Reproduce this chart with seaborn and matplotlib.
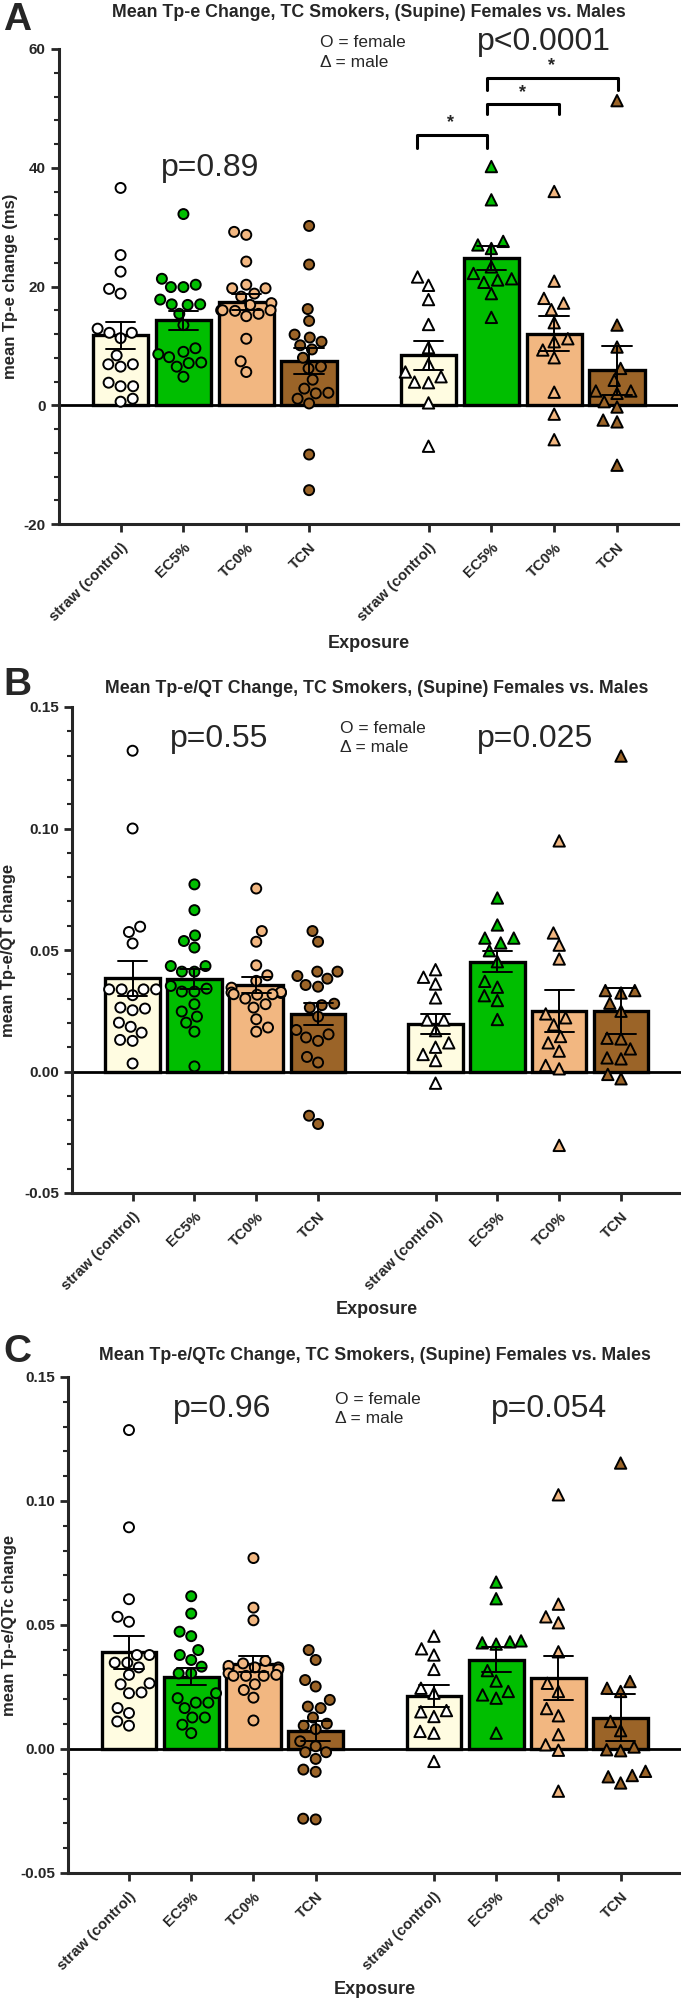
import warnings
import numpy as np
import pandas as pd
import matplotlib
matplotlib.use("Agg")
import matplotlib.pyplot as plt
from matplotlib.ticker import MultipleLocator, FormatStrFormatter
import seaborn as sns

warnings.filterwarnings("ignore")

# categories and layout of the x axis (females left, males right)
exposures = ["straw (control)", "EC5%", "TC0%", "TCN"]
tick_labels = exposures + exposures
pos_female = [0, 1, 2, 3]
pos_male = [4.9, 5.9, 6.9, 7.9]

bar_colors = ["#FFFCE1", "#00BE00", "#F2B781", "#9B6428"]
dot_colors = ["#FFFFFF", "#00BE00", "#F2B781", "#9B6428"]

# Panel A: mean Tp-e change (ms)
tpe_female = [
    [36.6, 25.3, 22.5, 19.6, 18.8, 12.9, 12.2, 12.2, 11.3, 8.4, 6.9, 6.9, 6.5, 3.8, 3.2, 3.2, 1.1, 0.6],
    [32.2, 21.3, 20.3, 19.9, 19.9, 17.8, 17.0, 17.0, 16.9, 15.4, 13.5, 9.6, 8.6, 9.0, 8.1, 7.1, 7.2, 6.5, 4.8],
    [29.2, 28.7, 24.2, 20.3, 19.7, 19.7, 18.8, 18.3, 17.2, 16.9, 16.0, 15.0, 16.0, 15.9, 16.0, 15.4, 11.2, 7.4, 5.6],
    [30.2, 23.7, 16.2, 14.2, 11.9, 11.4, 10.7, 10.1, 9.4, 8.0, 6.5, 6.2, 4.3, 2.8, 2.0, 2.1, 1.1, 0.3, -8.3, -14.3],
]
tpe_male = [
    [21.6, 20.2, 17.8, 13.6, 9.7, 6.9, 5.6, 4.8, 3.8, 3.9, 0.4, -6.9],
    [40.2, 34.6, 27.6, 27.0, 26.4, 23.3, 22.2, 21.3, 21.1, 20.7, 18.8, 14.8],
    [36.0, 20.9, 17.2, 18.0, 16.1, 13.9, 11.2, 10.7, 9.3, 8.0, 2.2, -1.5, -5.8],
    [51.3, 13.5, 9.8, 6.2, 4.2, 2.4, 2.0, 2.4, 0.6, -0.3, -2.5, -2.8, -10.1],
]

# Panel B: mean Tp-e/QT change
tpeqt_female = [
    [0.132, 0.100, 0.0596, 0.0574, 0.0527, 0.0338, 0.0338, 0.0338, 0.0338, 0.0314, 0.0263, 0.0259,
     0.0252, 0.0201, 0.0184, 0.0160, 0.0130, 0.0126, 0.0033],
    [0.0770, 0.0664, 0.0560, 0.0537, 0.0510, 0.0434, 0.0434, 0.0411, 0.0411, 0.0352, 0.0341, 0.0329,
     0.0329, 0.0277, 0.0247, 0.0226, 0.0201, 0.0164, 0.0021],
    [0.0753, 0.0578, 0.0534, 0.0437, 0.0396, 0.0373, 0.0345, 0.0316, 0.0323, 0.0325, 0.0327, 0.0318,
     0.0318, 0.0300, 0.0277, 0.0263, 0.0215, 0.0181, 0.0164],
    [0.0578, 0.0534, 0.0411, 0.0411, 0.0393, 0.0382, 0.0356, 0.0349, 0.0279, 0.0273, 0.0263, 0.0226,
     0.0171, 0.0153, 0.0140, 0.0126, 0.0060, 0.0037, -0.0182, -0.0216],
]
tpeqt_male = [
    [0.0419, 0.0388, 0.0360, 0.0303, 0.0212, 0.0212, 0.0168, 0.0118, 0.0100, 0.0070, 0.0045, -0.0048],
    [0.0714, 0.0603, 0.0549, 0.0549, 0.0529, 0.0497, 0.0452, 0.0371, 0.0347, 0.0312, 0.0292, 0.0214],
    [0.0949, 0.0570, 0.0520, 0.0463, 0.0237, 0.0221, 0.0192, 0.0144, 0.0118, 0.0084, 0.0025, 0.0011, -0.0304],
    [0.1298, 0.0333, 0.0323, 0.0333, 0.0281, 0.0248, 0.0137, 0.0134, 0.0093, 0.0052, 0.0056, -0.0030, -0.0012],
]

# Panel C: mean Tp-e/QTc change
tpeqtc_female = [
    [0.1286, 0.0894, 0.0604, 0.0533, 0.0513, 0.0379, 0.0379, 0.0348, 0.0348, 0.0329, 0.0299, 0.0261,
     0.0265, 0.0225, 0.0228, 0.0165, 0.0145, 0.0111, 0.0094],
    [0.0616, 0.0546, 0.0473, 0.0455, 0.0399, 0.0379, 0.0359, 0.0332, 0.0305, 0.0305, 0.0225, 0.0205,
     0.0187, 0.0187, 0.0165, 0.0127, 0.0127, 0.0098, 0.0064],
    [0.0770, 0.0570, 0.0519, 0.0355, 0.0345, 0.0325, 0.0329, 0.0335, 0.0329, 0.0321, 0.0305, 0.0295,
     0.0295, 0.0299, 0.0295, 0.0261, 0.0238, 0.0207, 0.0115],
    [0.0399, 0.0359, 0.0278, 0.0252, 0.0198, 0.0171, 0.0165, 0.0127, 0.0102, 0.0094, 0.0080, 0.0031,
     0.0011, -0.0013, -0.0013, -0.0040, -0.0083, -0.0092, -0.0281, -0.0284],
]
tpeqtc_male = [
    [0.0455, 0.0404, 0.0379, 0.0321, 0.0245, 0.0225, 0.0150, 0.0155, 0.0131, 0.0071, 0.0064, -0.0050],
    [0.0673, 0.0606, 0.0432, 0.0436, 0.0423, 0.0428, 0.0316, 0.0274, 0.0232, 0.0218, 0.0205, 0.0064],
    [0.1025, 0.0584, 0.0509, 0.0533, 0.0392, 0.0265, 0.0232, 0.0163, 0.0134, 0.0058, 0.0017, -0.0005, -0.0170],
    [0.1153, 0.0272, 0.0232, 0.0245, 0.0111, 0.0074, -0.0003, -0.0007, 0.0008, -0.0090, -0.0107, -0.0112, -0.0137],
]

p_values_a = ["p=0.89", "p<0.0001"]
p_values_b = ["p=0.55", "p=0.025"]
p_values_c = ["p=0.96", "p=0.054"]


def long_frame(female, male):
    rows = []
    for sex, groups, pos in (("F", female, pos_female), ("M", male, pos_male)):
        for i, vals in enumerate(groups):
            for v in vals:
                rows.append({"sex": sex, "grp": f"{sex}{i}", "pos": pos[i], "value": v})
    return pd.DataFrame(rows)


bar_pal = {f"{s}{i}": bar_colors[i] for s in "FM" for i in range(4)}
dot_pal = {f"{s}{i}": dot_colors[i] for s in "FM" for i in range(4)}

sns.set_style("ticks")
plt.rcParams["font.family"] = ["Liberation Sans", "DejaVu Sans"]
plt.rcParams["axes.unicode_minus"] = False

W, H = 681, 1998
fig = plt.figure(figsize=(W / 100, H / 100), dpi=100)


def px_axes(left, right, top, bottom):
    return fig.add_axes([left / W, 1 - bottom / H, (right - left) / W, (bottom - top) / H])


def draw_panel(ax, female, male, ylim, major, minor, fmt, ylabel, title, title_pad, ylab_x, xlab_y):
    df = long_frame(female, male)
    sns.barplot(data=df, x="pos", y="value", hue="grp", palette=bar_pal, native_scale=True,
                width=0.88, saturation=1, errorbar="se", capsize=0.47, edgecolor="black", linewidth=2.4,
                err_kws={"color": "black", "linewidth": 1.4, "zorder": 4}, legend=False, ax=ax)
    for sex, marker, size in (("F", "o", 7.2), ("M", "^", 8.2)):
        sns.swarmplot(data=df[df["sex"] == sex], x="pos", y="value", hue="grp", palette=dot_pal,
                      native_scale=True, marker=marker, size=size, edgecolor="black", linewidth=1.4,
                      legend=False, ax=ax, zorder=3)
    ax.axhline(0, color="black", lw=2, zorder=2)
    ax.set_xlim(-0.98, 8.87)
    ax.set_ylim(*ylim)
    ax.yaxis.set_major_locator(MultipleLocator(major))
    ax.yaxis.set_minor_locator(MultipleLocator(minor))
    ax.yaxis.set_major_formatter(FormatStrFormatter(fmt))
    ax.set_xticks(pos_female + pos_male)
    ax.set_xticklabels(tick_labels, rotation=45, ha="right", rotation_mode="anchor",
                       fontweight="bold", fontsize=10.8)
    ax.tick_params(axis="x", length=6, width=2, pad=6)
    ax.tick_params(axis="y", which="major", length=6, width=2, labelsize=11)
    ax.tick_params(axis="y", which="minor", length=3.5, width=1.5)
    for lab in ax.get_yticklabels():
        lab.set_fontweight("bold")
    for side in ("top", "right"):
        ax.spines[side].set_visible(False)
    for side in ("left", "bottom"):
        ax.spines[side].set_linewidth(2.2)
    ax.set_ylabel(ylabel, fontweight="bold", fontsize=12)
    ax.yaxis.set_label_coords(ylab_x, 0.5)
    ax.set_xlabel("Exposure", fontweight="bold", fontsize=13)
    ax.xaxis.set_label_coords(0.5, xlab_y)
    ax.set_title(title, fontweight="bold", fontsize=12.8, pad=title_pad)


# ---- Panel A ----
axA = px_axes(59, 678, 49, 524)
draw_panel(axA, tpe_female, tpe_male, (-20, 60), 20, 4, "%d", "mean Tp-e change (ms)",
           "Mean Tp-e Change, TC Smokers, (Supine) Females vs. Males", 23, -0.066, -0.234)
axA.text(1.42, 40, p_values_a[0], fontsize=23, ha="center", va="center")
axA.text(6.74, 61.2, p_values_a[1], fontsize=23, ha="center", va="center")
axA.text(3.17, 61.1, "O = female", fontsize=12.5, ha="left", va="center")
axA.text(3.17, 57.7, "\u0394 = male", fontsize=12.5, ha="left", va="center")
brackets = [(4.72, 5.83, 45.5, 43.3, 5.25), (5.83, 6.97, 50.7, 49.0, 6.40), (5.83, 7.92, 55.2, 53.1, 6.86)]
for x0, x1, top, leg, sx in brackets:
    axA.plot([x0, x0, x1, x1], [leg, top, top, leg], color="black", lw=2.2, clip_on=False)
    axA.text(sx, top + 0.6, "*", fontsize=13, fontweight="bold", ha="center", va="bottom")

# ---- Panel B ----
axB = px_axes(72, 681, 707, 1193)
draw_panel(axB, tpeqt_female, tpeqt_male, (-0.05, 0.15), 0.05, 0.01, "%.2f", "mean Tp-e/QT change",
           "Mean Tp-e/QT Change, TC Smokers, (Supine) Females vs. Males", 10, -0.092, -0.222)
axB.text(1.40, 0.137, p_values_b[0], fontsize=23, ha="center", va="center")
axB.text(6.51, 0.137, p_values_b[1], fontsize=23, ha="center", va="center")
axB.text(3.36, 0.1413, "O = female", fontsize=12.5, ha="left", va="center")
axB.text(3.36, 0.1335, "\u0394 = male", fontsize=12.5, ha="left", va="center")

# ---- Panel C ----
axC = px_axes(68, 681, 1377, 1873)
draw_panel(axC, tpeqtc_female, tpeqtc_male, (-0.05, 0.15), 0.05, 0.01, "%.2f", "mean Tp-e/QTc change",
           "Mean Tp-e/QTc Change, TC Smokers, (Supine) Females vs. Males", 12, -0.083, -0.218)
axC.text(1.50, 0.137, p_values_c[0], fontsize=23, ha="center", va="center")
axC.text(6.75, 0.137, p_values_c[1], fontsize=23, ha="center", va="center")
axC.text(3.31, 0.141, "O = female", fontsize=12.5, ha="left", va="center")
axC.text(3.31, 0.1334, "\u0394 = male", fontsize=12.5, ha="left", va="center")

# panel letters
for letter, ytop in (("A", 2), ("B", 667), ("C", 1334)):
    fig.text(3 / W, 1 - ytop / H, letter, fontsize=28, fontweight="bold", ha="left", va="top")

fig.savefig("out.png", dpi=100)
